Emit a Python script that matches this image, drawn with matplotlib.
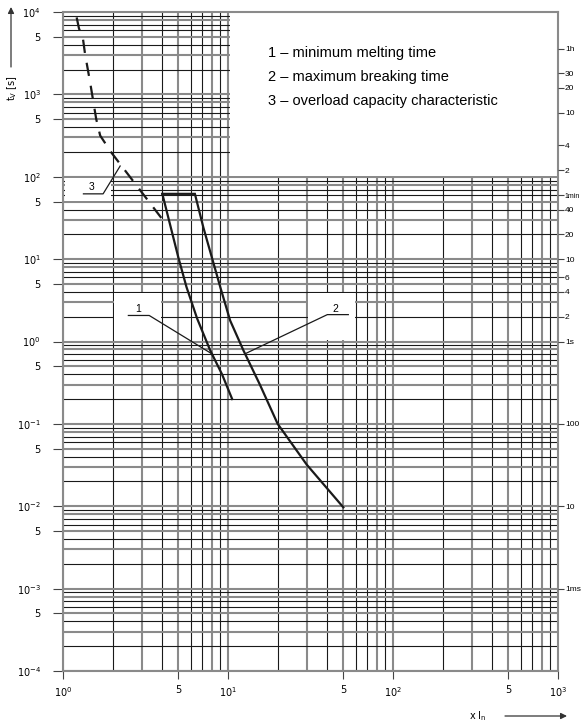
import matplotlib
matplotlib.use('Agg')
import matplotlib.pyplot as plt
from matplotlib.patches import Rectangle
from matplotlib.ticker import NullLocator

plt.rcParams['font.family'] = ['Liberation Sans', 'DejaVu Sans']
plt.rcParams['mathtext.default'] = 'regular'

# ---- data (x = multiples of I_n, t = seconds) ----
min_melt_x = [4.0, 5.0, 5.6, 6.5, 7.8, 9.2, 10.6]
min_melt_t = [62, 10.5, 4.6, 1.9, 0.78, 0.40, 0.20]

max_break_x = [4.0, 6.3, 7.1, 9.0, 10.3, 12.4, 15.6, 20, 30, 50]
max_break_t = [62, 62, 24, 4.5, 1.8, 0.78, 0.30, 0.10, 0.032, 0.0097]

overload_x = [1.21, 1.25, 1.32, 1.36, 1.46, 1.59, 1.68, 1.97, 4.0]
overload_t = [8600, 6300, 4800, 3100, 1400, 500, 316, 195, 30.5]

legend_lines = ['1 – minimum melting time',
                '2 – maximum breaking time',
                '3 – overload capacity characteristic']

x_ticks  = [1, 5, 10, 50, 100, 500, 1000]
x_labels = ['$10^{0}$', '5', '$10^{1}$', '5', '$10^{2}$', '5', '$10^{3}$']
y_ticks  = [1e-4, 5e-4, 1e-3, 5e-3, 1e-2, 5e-2, 1e-1, 5e-1, 1, 5, 10, 50, 100, 500, 1e3, 5e3, 1e4]
y_labels = ['$10^{-4}$', '5', '$10^{-3}$', '5', '$10^{-2}$', '5', '$10^{-1}$', '5',
            '$10^{0}$', '5', '$10^{1}$', '5', '$10^{2}$', '5', '$10^{3}$', '5', '$10^{4}$']

time_ticks  = [3600, 1800, 1200, 600, 240, 120, 60, 40, 20, 10, 6, 4, 2, 1, 0.1, 0.01, 0.001]
time_labels = ['1h', '30', '20', '10', '4', '2', '1min', '40', '20', '10', '6', '4', '2',
               '1s', '100', '10', '1ms']

# curve labels and their leader lines
curve_ids  = ['1', '2', '3']
id_pos     = [(2.84, 2.45), (45, 2.45), (1.49, 75)]
leader_x   = [[2.49, 3.33, 7.97], [53.6, 40, 12.7], [1.33, 1.75, 2.22]]
leader_t   = [[2.07, 2.07, 0.71], [2.12, 2.12, 0.71], [62, 62, 135]]

# blank (white) areas of the grid: (x0, x1, t0, t1)
blanks = [(10, 1000, 100, 1e4), (2, 4, 1, 4), (30, 60, 1, 4), (1, 2, 50, 100)]

grey  = '#8a8a8a'
black = '#1a1a1a'

fig = plt.figure(figsize=(5.81, 7.26), dpi=100)
ax = fig.add_axes([63 / 581, 55 / 726, 495 / 581, 659 / 726])
ax.set_xscale('log')
ax.set_yscale('log')
ax.set_xlim(1, 1000)
ax.set_ylim(1e-4, 1e4)

# grid
grey_steps = [1, 3, 5, 8]
for k in range(0, 3):
    for m in range(1, 10):
        g = m in grey_steps
        ax.axvline(m * 10 ** k, color=grey if g else black, lw=1.5 if g else 0.8, zorder=1)
for k in range(-4, 4):
    for m in range(1, 10):
        g = m in grey_steps
        ax.axhline(m * 10.0 ** k, color=grey if g else black, lw=1.5 if g else 0.8, zorder=1)

# white areas (slightly inset so border grid lines stay whole)
fx, fy = 10 ** (1.5 / 165), 10 ** (1.0 / 82)
for x0, x1, t0, t1 in blanks:
    ax.add_patch(Rectangle((x0 * fx, t0 * fy), x1 / fx - x0 * fx, t1 / fy - t0 * fy,
                           facecolor='white', edgecolor='none', zorder=2))

# curves
ax.plot(min_melt_x, min_melt_t, color=black, lw=1.6, zorder=4, solid_joinstyle='miter')
ax.plot(max_break_x, max_break_t, color=black, lw=1.6, zorder=4, solid_joinstyle='miter')
ax.plot(overload_x, overload_t, color=black, lw=1.6, zorder=4, dashes=(6.0, 4.5))

for cid, (px, py), lx, lt in zip(curve_ids, id_pos, leader_x, leader_t):
    ax.plot(lx, lt, color=black, lw=0.9, zorder=4)
    ax.text(px, py, cid, fontsize=7.5, ha='center', va='center', zorder=5)

for i, s in enumerate(legend_lines):
    ax.text(0.414, 0.938 - i * 0.0365, s, transform=ax.transAxes, fontsize=10.5,
            ha='left', va='center', zorder=5)

# axes cosmetics
for sp in ax.spines.values():
    sp.set_color(grey)
    sp.set_linewidth(1.5)
    sp.set_zorder(3)

ax.set_xticks(x_ticks)
ax.set_xticklabels(x_labels)
ax.set_yticks(y_ticks)
ax.set_yticklabels(y_labels)
ax.xaxis.set_minor_locator(NullLocator())
ax.yaxis.set_minor_locator(NullLocator())
ax.tick_params(axis='x', direction='out', length=6, width=0.8, color='#444',
               labelsize=7, pad=4, labelfontfamily='DejaVu Sans')
ax.tick_params(axis='y', direction='out', length=7, width=0.8, color='#444',
               labelsize=7, pad=9, labelfontfamily='DejaVu Sans')

ax2 = ax.twinx()
ax2.set_yscale('log')
ax2.set_ylim(1e-4, 1e4)
ax2.set_yticks(time_ticks)
ax2.set_yticklabels(time_labels)
ax2.yaxis.set_minor_locator(NullLocator())
ax2.tick_params(axis='y', direction='out', length=4.5, width=0.8, color='#444',
                labelsize=6, pad=0.5)
for lab in ax2.get_yticklabels():
    if lab.get_text() == '1min':
        lab.set_fontsize(5)
for sp in ax2.spines.values():
    sp.set_visible(False)

# axis titles with arrows
fig.text(12 / 581, 1 - 88 / 726, 't$_{V}$ [s]', rotation=90, fontsize=7,
         ha='center', va='center', family='DejaVu Sans')
fig.text(478 / 581, 1 - 716 / 726, 'x I$_{n}$', fontsize=7, ha='center', va='center',
         family='DejaVu Sans')
ax.annotate('', xy=(11 / 581, 1 - 7 / 726), xytext=(11 / 581, 1 - 67 / 726),
            xycoords='figure fraction', textcoords='figure fraction',
            arrowprops=dict(arrowstyle='-|>', lw=0.9, color='#333',
                            mutation_scale=9, shrinkA=0, shrinkB=0))
ax.annotate('', xy=(567 / 581, 1 - 716 / 726), xytext=(505 / 581, 1 - 716 / 726),
            xycoords='figure fraction', textcoords='figure fraction',
            arrowprops=dict(arrowstyle='-|>', lw=0.9, color='#333',
                            mutation_scale=9, shrinkA=0, shrinkB=0))

fig.savefig('out.png', dpi=100)
